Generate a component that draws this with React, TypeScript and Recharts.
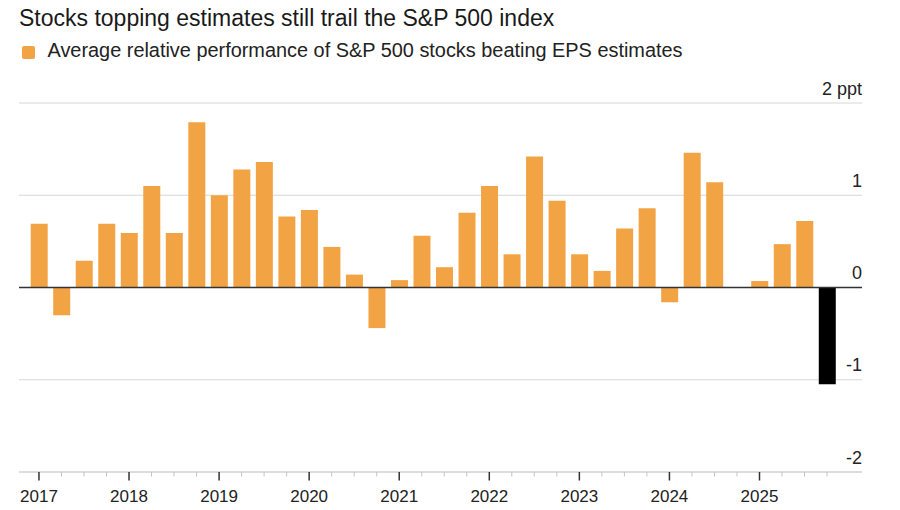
import { BarChart, Bar, XAxis, YAxis, CartesianGrid, ReferenceLine, Cell } from "recharts";

const years = ["2017", "2018", "2019", "2020", "2021", "2022", "2023", "2024", "2025"];
const quarters = ["Q1", "Q2", "Q3", "Q4"];
const categories = years.flatMap((y) => quarters.map((q) => `${y} ${q}`));

// average relative performance, ppt (2024 Q4 has no bar)
const values: (number | null)[] = [
  0.69, -0.3, 0.29, 0.69,
  0.59, 1.1, 0.59, 1.79,
  1.0, 1.28, 1.36, 0.77,
  0.84, 0.44, 0.14, -0.44,
  0.08, 0.56, 0.22, 0.81,
  1.1, 0.36, 1.42, 0.94,
  0.36, 0.18, 0.64, 0.86,
  -0.16, 1.46, 1.14, null,
  0.07, 0.47, 0.72, -1.05,
];

const yTicks = [-2, -1, 0, 1, 2];
const yTickLabels = ["-2", "-1", "0", "1", "2 ppt"];

const data = categories.map((quarter, i) => ({ quarter, value: values[i] }));

const FONT = '"Liberation Sans", Arial, Helvetica, sans-serif';
const ORANGE = "#F2A444";

const XTick = (props: any) => {
  const { x, y, payload } = props;
  const v = String(payload.value);
  const major = v.endsWith("Q1");
  return (
    <g>
      <line x1={x} x2={x} y1={y} y2={y + (major ? 8.5 : 4.5)} stroke={major ? "#333" : "#c4c4c4"} strokeWidth={major ? 1.5 : 1} />
      {major && (
        <text x={x} y={y + 30} textAnchor="middle" fontSize={17} fill="#222" fontFamily={FONT}>
          {v.slice(0, 4)}
        </text>
      )}
    </g>
  );
};

const YTick = (props: any) => {
  const { x, y, payload } = props;
  const idx = yTicks.indexOf(payload.value);
  return (
    <text x={x} y={y - 8.5} textAnchor="end" fontSize={18} fill="#222" fontFamily={FONT}>
      {yTickLabels[idx]}
    </text>
  );
};

export default function App() {
  return (
    <div style={{ position: "absolute", left: 0, top: 0, width: 900, height: 510, background: "#fff", fontFamily: FONT }}>
      <div style={{ position: "absolute", left: 19, top: 7, fontSize: 23, lineHeight: "23px", color: "#1a1a1a", whiteSpace: "nowrap" }}>
        Stocks topping estimates still trail the S&amp;P 500 index
      </div>
      <div style={{ position: "absolute", left: 22, top: 46, width: 13, height: 13, borderRadius: 2, background: ORANGE }} />
      <div style={{ position: "absolute", left: 47.5, top: 41, fontSize: 19.9, lineHeight: "19.9px", color: "#222", whiteSpace: "nowrap" }}>
        Average relative performance of S&amp;P 500 stocks beating EPS estimates
      </div>
      <div style={{ position: "absolute", left: 0, top: 0 }}>
        <BarChart width={900} height={510} data={data} margin={{ top: 103, right: 37, bottom: 37, left: 19 }}>
          <CartesianGrid vertical={false} stroke="#d6d6d6" />
          <XAxis
            dataKey="quarter"
            height={1}
            interval={0}
            padding={{ left: 8.7, right: 23.7 }}
            axisLine={{ stroke: "#cfcfcf" }}
            tickLine={false}
            tickSize={0}
            tickMargin={0}
            tick={<XTick />}
          />
          <YAxis
            orientation="right"
            width={1}
            domain={[-2, 2]}
            ticks={yTicks}
            axisLine={false}
            tickLine={false}
            tickSize={0}
            tickMargin={0}
            tick={<YTick />}
          />
          <Bar dataKey="value" barSize={17} isAnimationActive={false}>
            {data.map((d, i) => (
              <Cell key={d.quarter} fill={i === data.length - 1 ? "#000" : ORANGE} />
            ))}
          </Bar>
          <ReferenceLine y={0} stroke="#333" strokeWidth={1.5} />
        </BarChart>
      </div>
    </div>
  );
}
